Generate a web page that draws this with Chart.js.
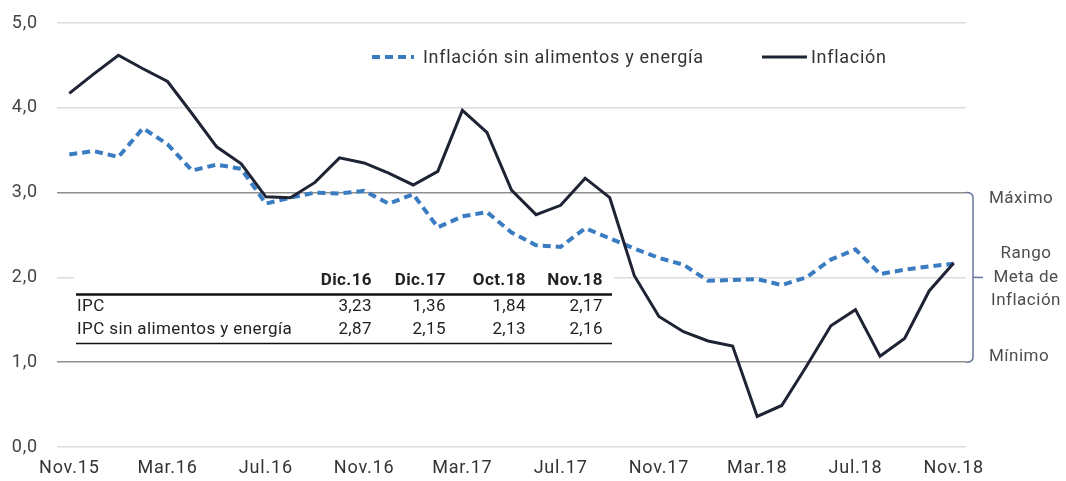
<!DOCTYPE html>
<html>
<head>
<meta charset="utf-8">
<script src="https://cdn.jsdelivr.net/npm/chart.js@4.4.1/dist/chart.umd.min.js"></script>
<style>
  html, body { margin: 0; padding: 0; background: #fff; }
  #wrap { width: 1066px; height: 481px; position: relative; }
</style>
</head>
<body>
<div id="wrap"><canvas id="ipcChart"></canvas></div>
<script>
const months = [
  'Nov.15','Dic.15','Ene.16','Feb.16','Mar.16','Abr.16','May.16','Jun.16','Jul.16','Ago.16','Sep.16','Oct.16',
  'Nov.16','Dic.16','Ene.17','Feb.17','Mar.17','Abr.17','May.17','Jun.17','Jul.17','Ago.17','Sep.17','Oct.17',
  'Nov.17','Dic.17','Ene.18','Feb.18','Mar.18','Abr.18','May.18','Jun.18','Jul.18','Ago.18','Sep.18','Oct.18',
  'Nov.18'
];

const inflacion = [
  4.17, 4.40, 4.62, 4.46, 4.31, 3.93, 3.54, 3.34, 2.95, 2.94, 3.12, 3.41,
  3.35, 3.23, 3.09, 3.25, 3.97, 3.71, 3.03, 2.74, 2.85, 3.17, 2.94, 2.02,
  1.54, 1.36, 1.25, 1.19, 0.36, 0.49, 0.95, 1.43, 1.62, 1.07, 1.28, 1.84,
  2.17
];

const inflacionSAE = [
  3.45, 3.49, 3.42, 3.76, 3.57, 3.26, 3.33, 3.28, 2.87, 2.94, 3.00, 2.99,
  3.02, 2.87, 2.98, 2.59, 2.72, 2.77, 2.53, 2.38, 2.36, 2.58, 2.46, 2.34,
  2.23, 2.15, 1.96, 1.97, 1.98, 1.91, 2.00, 2.21, 2.33, 2.04, 2.09, 2.13,
  2.16
];

const yTicks = [0, 1, 2, 3, 4, 5];
const rangeMax = 3;
const rangeMin = 1;

const tableCols = ['Dic.16', 'Dic.17', 'Oct.18', 'Nov.18'];
const tableRows = ['IPC', 'IPC sin alimentos y energía'];
const ipcRow = [3.23, 1.36, 1.84, 2.17];
const saeRow = [2.87, 2.15, 2.13, 2.16];

const FONT = 'Roboto, "Liberation Sans", sans-serif';
const BLUE = '#3a7cc1';
const DARK = '#1e2433';
const fmt = v => v.toFixed(2).replace('.', ',');

// legend, table and target-range bracket
const extras = {
  id: 'extras',
  beforeDraw(chart) {
    chart.ctx.letterSpacing = '0.8px';
  },
  beforeDatasetsDraw(chart) {
    const ctx = chart.ctx;
    const colX = [372, 446, 526, 603];
    ctx.save();
    ctx.letterSpacing = '0.4px';
    ctx.fillStyle = '#fff';
    ctx.fillRect(74, 268, 540, 78);

    ctx.fillStyle = '#222';
    ctx.font = 'bold 17px ' + FONT;
    ctx.textAlign = 'right';
    ctx.textBaseline = 'middle';
    tableCols.forEach((c, i) => ctx.fillText(c, colX[i], 281));

    ctx.strokeStyle = '#111';
    ctx.lineWidth = 2.5;
    ctx.beginPath(); ctx.moveTo(76, 294.5); ctx.lineTo(612, 294.5); ctx.stroke();
    ctx.lineWidth = 1.5;
    ctx.beginPath(); ctx.moveTo(76, 343.5); ctx.lineTo(612, 343.5); ctx.stroke();

    ctx.font = '17px ' + FONT;
    [ipcRow, saeRow].forEach((row, r) => {
      const y = 307 + r * 23;
      ctx.textAlign = 'left';
      ctx.fillText(tableRows[r], 77, y);
      ctx.textAlign = 'right';
      row.forEach((v, i) => ctx.fillText(fmt(v), colX[i], y));
    });
    ctx.restore();
  },
  afterDraw(chart) {
    const ctx = chart.ctx;
    const y = chart.scales.y;
    const yTop = y.getPixelForValue(rangeMax);
    const yBot = y.getPixelForValue(rangeMin);
    const yMid = (yTop + yBot) / 2;
    ctx.save();

    // legend
    ctx.lineWidth = 4;
    ctx.strokeStyle = BLUE;
    ctx.setLineDash([8, 5]);
    ctx.beginPath(); ctx.moveTo(372, 57); ctx.lineTo(414, 57); ctx.stroke();
    ctx.setLineDash([]);
    ctx.lineWidth = 3;
    ctx.strokeStyle = DARK;
    ctx.beginPath(); ctx.moveTo(762, 57); ctx.lineTo(807, 57); ctx.stroke();
    ctx.fillStyle = '#333';
    ctx.font = '18px ' + FONT;
    ctx.letterSpacing = '0.7px';
    ctx.textAlign = 'left';
    ctx.textBaseline = 'middle';
    ctx.fillText('Inflación sin alimentos y energía', 423, 58);
    ctx.fillText('Inflación', 811, 58);

    // bracket
    const bx = 973;
    ctx.strokeStyle = '#66769a';
    ctx.lineWidth = 1.5;
    ctx.beginPath();
    ctx.moveTo(966, yTop);
    ctx.quadraticCurveTo(bx, yTop, bx, yTop + 5);
    ctx.lineTo(bx, yBot - 5);
    ctx.quadraticCurveTo(bx, yBot, 966, yBot);
    ctx.stroke();
    ctx.beginPath(); ctx.moveTo(bx, yMid); ctx.lineTo(983, yMid); ctx.stroke();

    ctx.fillStyle = '#4d4d4d';
    ctx.font = '17px ' + FONT;
    ctx.letterSpacing = '0.5px';
    ctx.textAlign = 'left';
    ctx.fillText('Máximo', 989, yTop + 6);
    ctx.fillText('Mínimo', 989, yBot - 5);
    ctx.textAlign = 'center';
    ctx.fillText('Rango', 1026, yMid - 24);
    ctx.fillText('Meta de', 1026, yMid);
    ctx.fillText('Inflación', 1026, yMid + 23);
    ctx.restore();
  }
};

new Chart(document.getElementById('ipcChart'), {
  type: 'line',
  data: {
    labels: months,
    datasets: [
      {
        label: 'Inflación sin alimentos y energía',
        data: inflacionSAE,
        borderColor: BLUE,
        borderWidth: 4,
        borderDash: [8, 5],
        pointRadius: 0,
        tension: 0,
        order: 1
      },
      {
        label: 'Inflación',
        data: inflacion,
        borderColor: DARK,
        borderWidth: 3,
        pointRadius: 0,
        tension: 0,
        order: 0
      }
    ]
  },
  options: {
    responsive: true,
    maintainAspectRatio: false,
    animation: false,
    layout: { padding: { top: 23, right: 100, left: 0, bottom: 0 } },
    plugins: {
      legend: { display: false },
      tooltip: { enabled: false }
    },
    scales: {
      x: {
        offset: true,
        grid: { display: false, drawTicks: false },
        border: { display: false },
        afterFit: s => { s.height = 34; },
        ticks: {
          autoSkip: false,
          maxRotation: 0,
          padding: 11,
          color: '#333',
          font: { family: FONT, size: 18 },
          callback: function (v, i) { return i % 4 === 0 ? months[i] : ''; }
        }
      },
      y: {
        min: 0,
        max: 5,
        afterFit: s => { s.width = 57; s.paddingTop = 0; s.paddingBottom = 0; },
        afterBuildTicks: s => { s.ticks = yTicks.map(v => ({ value: v })); },
        border: { display: false },
        grid: {
          drawTicks: false,
          lineWidth: 1.5,
          color: c => (c.tick.value === rangeMax || c.tick.value === rangeMin) ? '#8e8e8e' : '#dcdcdc'
        },
        ticks: {
          padding: 19,
          color: '#444',
          font: { family: FONT, size: 18 },
          callback: v => v.toFixed(1).replace('.', ',')
        }
      }
    }
  },
  plugins: [extras]
});
</script>
</body>
</html>
